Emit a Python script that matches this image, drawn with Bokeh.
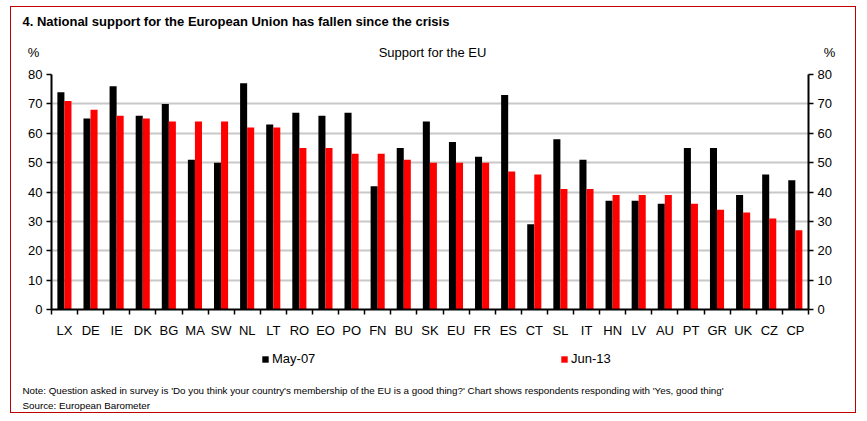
from bokeh.plotting import figure
from bokeh.layouts import column
from bokeh.models import (ColumnDataSource, LinearAxis, FixedTicker, Range1d,
                          Label, Legend, LegendItem)
from bokeh.transform import dodge
from bokeh.embed import file_html
from bokeh.resources import INLINE

countries = ["LX", "DE", "IE", "DK", "BG", "MA", "SW", "NL", "LT", "RO", "EO", "PO",
             "FN", "BU", "SK", "EU", "FR", "ES", "CT", "SL", "IT", "HN", "LV", "AU",
             "PT", "GR", "UK", "CZ", "CP"]
may07 = [74, 65, 76, 66, 70, 51, 50, 77, 63, 67, 66, 67,
         42, 55, 64, 57, 52, 73, 29, 58, 51, 37, 37, 36,
         55, 55, 39, 46, 44]
jun13 = [71, 68, 66, 65, 64, 64, 64, 62, 62, 55, 55, 53,
         53, 51, 50, 50, 50, 47, 46, 41, 41, 39, 39, 39,
         36, 34, 33, 31, 27]
y_ticks = [0, 10, 20, 30, 40, 50, 60, 70, 80]
series_names = ["May-07", "Jun-13"]
series_fields = ["may07", "jun13"]
colors = ["#000000", "#ff0000"]

FONT = "Liberation Sans"
W = 844


def strip(height):
    f = figure(width=W, height=height, output_backend="svg", toolbar_location=None,
               x_range=Range1d(0, W), y_range=Range1d(0, height),
               x_axis_type=None, y_axis_type=None, min_border=0)
    f.frame_align = False
    f.grid.visible = False
    f.outline_line_color = None
    f.background_fill_color = "white"
    f.border_fill_color = "white"
    return f


def lab(f, text, x, y, size="13px", style="normal", align="left"):
    f.add_layout(Label(x=x, y=y, text=text, text_font=FONT, text_font_size=size,
                       text_font_style=style, text_color="black", text_align=align,
                       text_baseline="middle"))


# ---- top strip: title and axis headers
top = strip(60)
lab(top, "4. National support for the European Union has fallen since the crisis", 11, 46,
    size="13px", style="bold")
lab(top, "%", 22, 15, align="center")
lab(top, "Support for the EU", 421, 15, align="center")
lab(top, "%", 818, 15, align="center")

# ---- main chart
n = len(countries)
idx = list(range(n))
src = ColumnDataSource(dict(x=idx, may07=may07, jun13=jun13))

p = figure(width=W, height=273, output_backend="svg", toolbar_location=None,
           x_range=Range1d(-0.5, n - 0.5), y_range=Range1d(0, 80),
           min_border_left=40, min_border_right=47, min_border_top=7, min_border_bottom=31)
p.frame_align = False
p.outline_line_color = None
p.background_fill_color = "white"
p.border_fill_color = "white"

p.vbar(x=dodge("x", -0.14, range=p.x_range), top=series_fields[0], width=0.27, source=src,
       fill_color=colors[0], line_color=None)
p.vbar(x=dodge("x", 0.13, range=p.x_range), top=series_fields[1], width=0.27, source=src,
       fill_color=colors[1], line_color=None)

p.xgrid.visible = False
p.ygrid.ticker = FixedTicker(ticks=y_ticks)
p.ygrid.grid_line_color = "#c8c8c8"
p.ygrid.grid_line_width = 2

xa = p.xaxis[0]
xa.ticker = FixedTicker(ticks=idx, minor_ticks=[i - 0.5 for i in range(n + 1)])
xa.major_label_overrides = {i: c for i, c in enumerate(countries)}
xa.major_tick_line_color = None
xa.minor_tick_in = 0
xa.minor_tick_out = 5
xa.minor_tick_line_color = "black"
xa.minor_tick_line_width = 1.5
xa.axis_line_color = "black"
xa.axis_line_width = 2
xa.major_label_text_font = FONT
xa.major_label_text_font_size = "13px"
xa.major_label_text_color = "black"
xa.major_label_standoff = 7


def style_y(ax):
    ax.ticker = FixedTicker(ticks=y_ticks)
    ax.axis_line_color = "black"
    ax.axis_line_width = 2
    ax.major_tick_in = 0
    ax.major_tick_out = 5
    ax.major_tick_line_width = 1.5
    ax.major_tick_line_color = "black"
    ax.minor_tick_line_color = None
    ax.major_label_text_font = FONT
    ax.major_label_text_font_size = "13px"
    ax.major_label_text_color = "black"
    ax.major_label_standoff = 4


style_y(p.yaxis[0])
ra = LinearAxis()
style_y(ra)
p.add_layout(ra, "right")

# ---- bottom strip: legend and notes
bot = strip(72)
for name, field, col, lx in zip(series_names, series_fields, colors, [250, 549]):
    # legend key renderer (hidden; only its legend swatch is shown)
    r = bot.vbar(x="x", top=field, width=0.27, source=src, fill_color=col, line_color=None)
    r.visible = False
    lg = Legend(items=[LegendItem(label=name, renderers=[r])], location=(lx, 46),
                orientation="horizontal", padding=0, margin=0, border_line_color=None,
                background_fill_alpha=0, glyph_width=8, glyph_height=8, label_standoff=3,
                label_height=14, label_text_font=FONT, label_text_font_size="13px",
                label_text_color="black", label_text_baseline="middle",
                inactive_fill_alpha=0)
    bot.add_layout(lg, "center")

lab(bot, "Note: Question asked in survey is 'Do you think your country's membership of the EU is a good thing?' "
    "Chart shows respondents responding with 'Yes, good thing'", 11, 22, size="9.8px")
lab(bot, "Source: European Barometer", 11, 7, size="9.8px")

page = column(top, p, bot, spacing=0)
page.styles = {"border": "1px solid #c00000", "margin-left": "10px", "margin-top": "6px"}

open("out.html", "w").write(file_html(page, INLINE))
